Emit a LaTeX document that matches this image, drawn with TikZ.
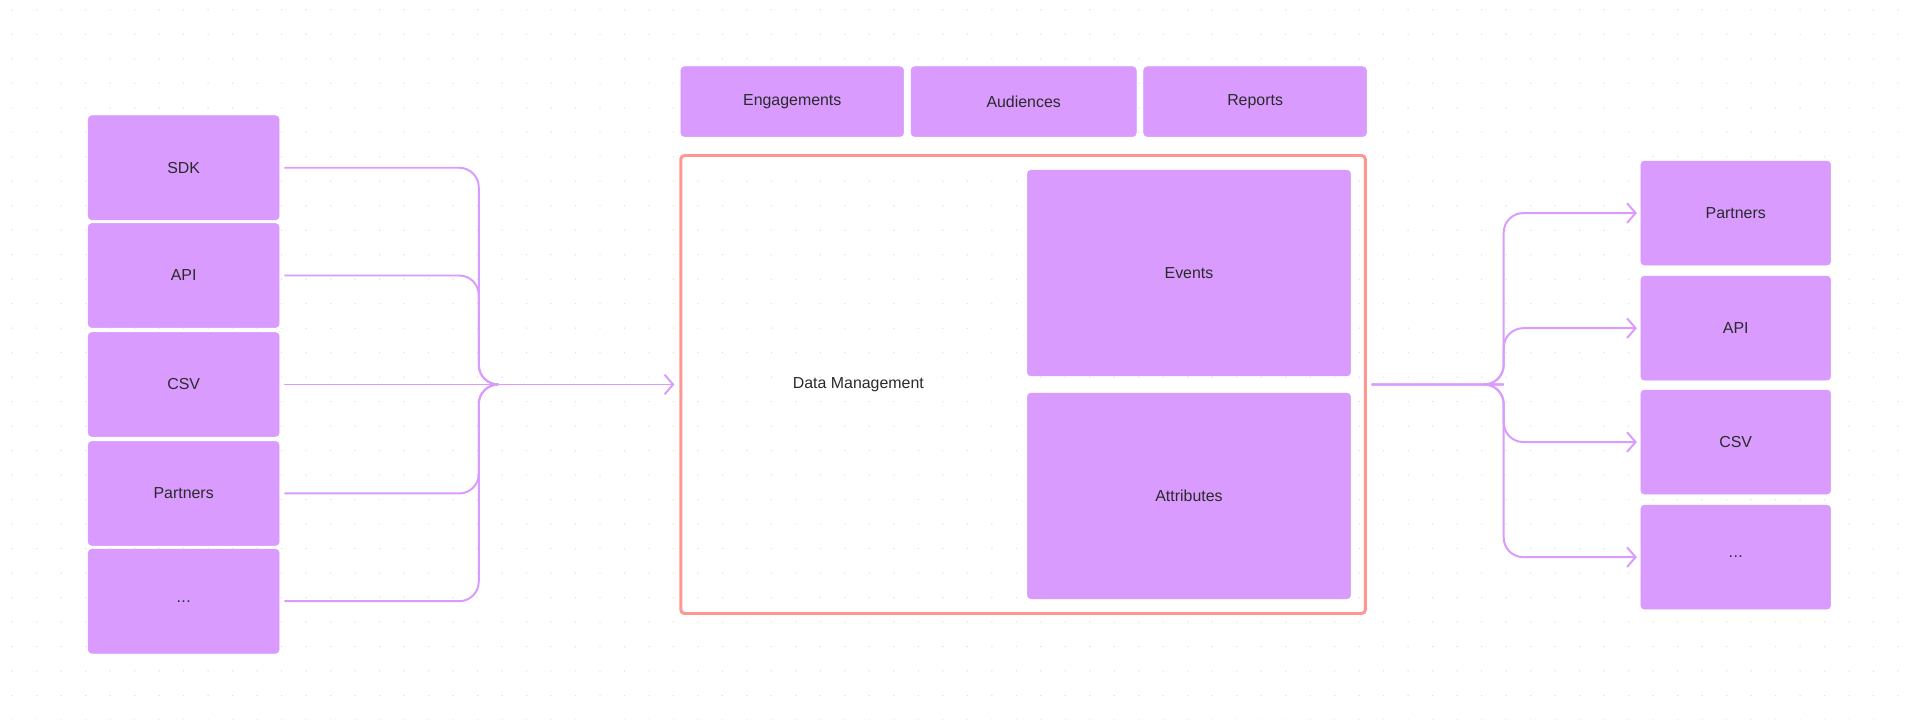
\documentclass[tikz,border=0pt]{standalone}
\usepackage{fontspec}
\setmainfont{Liberation Sans}
\usetikzlibrary{arrows.meta}
\definecolor{boxc}{HTML}{D99BFD}
\definecolor{framec}{HTML}{FF9791}
\definecolor{txt}{HTML}{2A2A2A}
\newcommand{\mydots}{.\kern0.3pt.\kern0.3pt.}
\begin{document}
\begin{tikzpicture}[x=1pt,y=-1pt,
  box/.style={fill=boxc,draw=boxc,rounded corners=3,text=txt,font=\fontsize{13}{15}\selectfont,inner sep=0},
  link/.style={draw=boxc,line width=1.6,rounded corners=16},
  tip/.style={-{Straight Barb[length=7,width=16,line width=1.6]}}]
\useasboundingbox[fill=white] (0,0) rectangle (1568,588);
\foreach \i in {0,...,78}{\foreach \j in {0,...,29}{\fill[black!12] (\i*20+10,\j*20+8) circle (0.6);}}
% left
\foreach \n/\t/\y in {s1/SDK/137,s2/API/225,s3/CSV/314,s4/Partners/403,s5/\mydots/491}
  \node[box,minimum width=156,minimum height=85] (\n) at (150,\y) {\t};
% top
\node[box,minimum width=182,minimum height=57] (eng) at (647,83) {Engagements};
\node[box,minimum width=184,minimum height=57] (aud) at (836,83) {Audiences};
\node[box,minimum width=182,minimum height=57] (rep) at (1025,83) {Reports};
% frame
\node[draw=framec,line width=2.4,rounded corners=3,minimum width=559,minimum height=374,inner sep=0] (dm) at (835.5,314) {};
\node[text=txt,font=\fontsize{13}{15}\selectfont] (dmt) at (701,314) {Data Management};
\node[box,minimum width=264,minimum height=168] (ev) at (971,223) {Events};
\node[box,minimum width=264,minimum height=168] (at) at (971,405) {Attributes};
% right
\foreach \n/\t/\y in {r1/Partners/174,r2/API/268,r3/CSV/361,r4/\mydots/455}
  \node[box,minimum width=155,minimum height=85] (\n) at (1417.5,\y) {\t};
\coordinate (jl) at (391,314);
\coordinate (jr) at (1228,314);
\foreach \n in {s1,s2,s4,s5}
  \draw[link] ([xshift=4]\n.east) -- (\n.east -| jl) -- (jl) -- ([xshift=16]jl);
\draw[link,tip] ([xshift=4]s3.east) -- ([xshift=-4]dm.west);
\foreach \n in {r1,r2,r3,r4}
  \draw[link,tip] ([xshift=4]dm.east) -- ([xshift=-16]jr) -- (jr) -- (jr |- \n.west) -- ([xshift=-3]\n.west);
\end{tikzpicture}
\end{document}
